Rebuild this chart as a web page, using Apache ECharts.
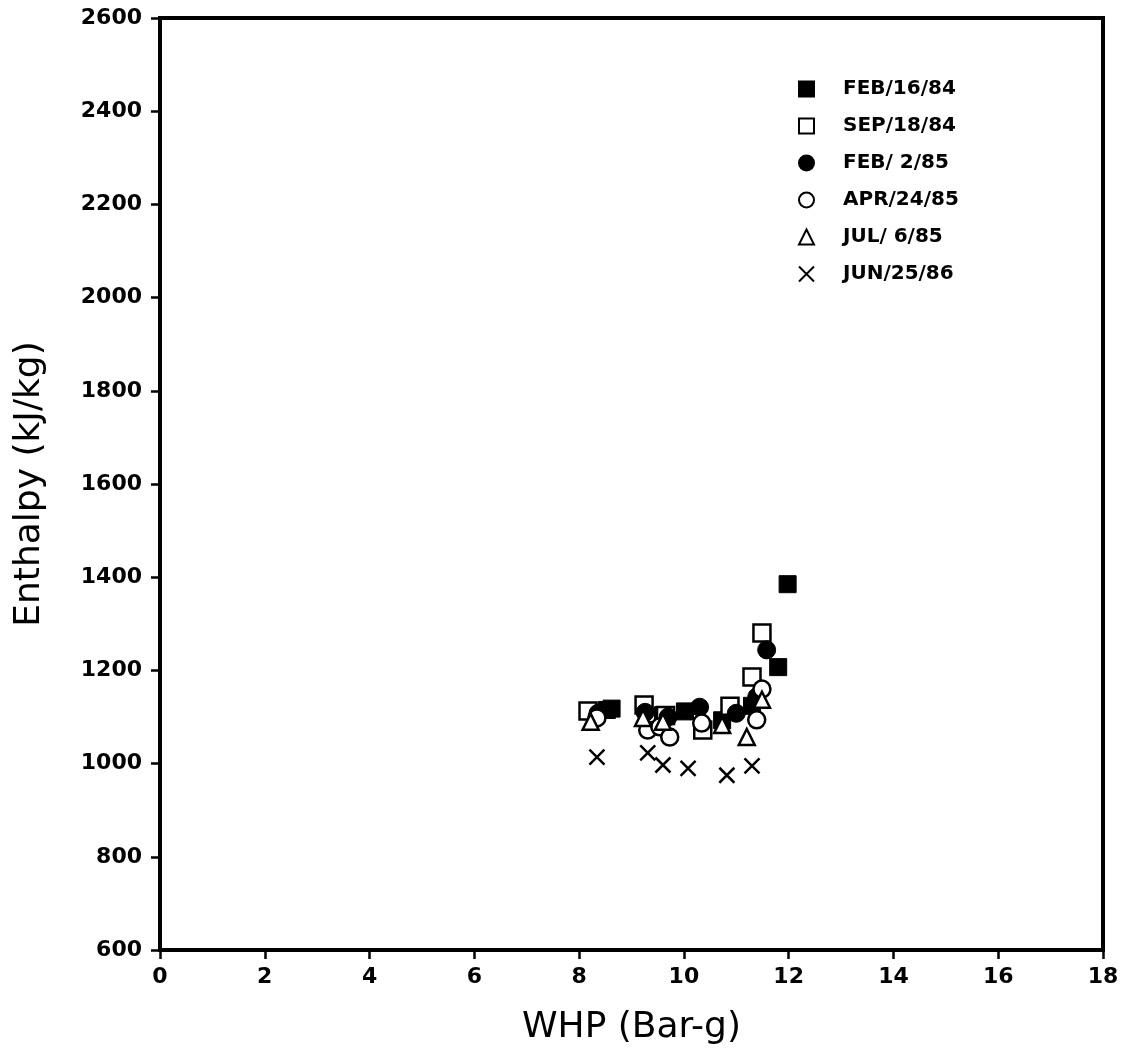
<!DOCTYPE html>
<html>
<head>
<meta charset="utf-8">
<script src="https://cdn.jsdelivr.net/npm/echarts@6/dist/echarts.min.js"></script>
<style>
html, body { margin: 0; padding: 0; background: #fff; }
#chart { width: 1125px; height: 1054px; }
</style>
</head>
<body>
<div id="chart"></div>
<script>
// WHP (bar-g) vs enthalpy (kJ/kg)
var seriesNames = ['FEB/16/84', 'SEP/18/84', 'FEB/ 2/85', 'APR/24/85', 'JUL/ 6/85', 'JUN/25/86'];

var feb84 = [[8.53, 1115], [8.62, 1118], [9.6, 1104], [10.02, 1112], [10.73, 1093], [11.3, 1124], [11.8, 1207], [11.98, 1385]];
var sep84 = [[8.17, 1113], [9.24, 1126], [9.65, 1103], [10.36, 1072], [10.88, 1123], [11.3, 1186], [11.49, 1280]];
var feb85 = [[8.36, 1108], [9.26, 1110], [9.7, 1100], [10.3, 1121], [11.0, 1108], [11.39, 1143], [11.58, 1244]];
var apr85 = [[8.34, 1098], [9.31, 1072], [9.54, 1079], [9.73, 1057], [10.34, 1087], [11.39, 1094], [11.49, 1160]];
var jul85 = [[8.22, 1090], [9.22, 1098], [9.6, 1090], [10.73, 1083], [11.2, 1057], [11.49, 1137]];
var jun86 = [[8.34, 1014], [9.31, 1023], [9.6, 997], [10.08, 990], [10.82, 975], [11.3, 995]];

var xTicks = [0, 2, 4, 6, 8, 10, 12, 14, 16, 18];
var yTicks = [600, 800, 1000, 1200, 1400, 1600, 1800, 2000, 2200, 2400, 2600];

var FONT = 'DejaVu Sans';
var crossPath = 'path://M0,0L10,10M10,0L0,10';

var filled = { color: '#000', borderColor: '#000', borderWidth: 1, opacity: 1 };
var hollow = { color: '#fff', borderColor: '#000', borderWidth: 2.5, opacity: 1 };

function makeSeries(name, data, symbol, size, style) {
	return {
		name: name,
		type: 'scatter',
		data: data,
		symbol: symbol,
		symbolSize: size,
		itemStyle: style,
		emphasis: { disabled: true }
	};
}

var option = {
	animation: false,
	backgroundColor: '#fff',
	grid: {
		left: 160, right: 22, top: 18, bottom: 104,
		show: true, borderColor: '#000', borderWidth: 4
	},
	legend: {
		orient: 'vertical',
		left: 793, top: 74,
		itemWidth: 15, itemHeight: 15,
		itemGap: 17,
		textStyle: { fontFamily: FONT, fontSize: 20, fontWeight: 'bold', color: '#000', padding: [0, 0, 0, 24] },
		data: seriesNames
	},
	xAxis: {
		type: 'value',
		min: xTicks[0], max: xTicks[xTicks.length - 1], interval: 2,
		name: 'WHP (Bar-g)', nameLocation: 'middle', nameGap: 60,
		nameTextStyle: { fontFamily: FONT, fontSize: 36, color: '#000' },
		axisLine: { show: true, lineStyle: { color: '#000', width: 4 } },
		axisTick: { show: true, inside: false, length: 9, lineStyle: { color: '#000', width: 2.5 } },
		axisLabel: { fontFamily: FONT, fontSize: 22, fontWeight: 'bold', color: '#000', margin: 16,
			formatter: function (v) { return String(v); } },
		splitLine: { show: false }
	},
	yAxis: {
		type: 'value',
		min: yTicks[0], max: yTicks[yTicks.length - 1], interval: 200,
		name: 'Enthalpy (kJ/kg)', nameLocation: 'middle', nameGap: 112,
		nameTextStyle: { fontFamily: FONT, fontSize: 36, color: '#000' },
		axisLine: { show: true, lineStyle: { color: '#000', width: 4 } },
		axisTick: { show: true, inside: false, length: 9, lineStyle: { color: '#000', width: 2.5 } },
		axisLabel: { fontFamily: FONT, fontSize: 22, fontWeight: 'bold', color: '#000', margin: 18,
			formatter: function (v) { return String(v); } },
		splitLine: { show: false }
	},
	series: [
		makeSeries(seriesNames[0], feb84, 'rect', 17, filled),
		makeSeries(seriesNames[1], sep84, 'rect', 17, hollow),
		makeSeries(seriesNames[2], feb85, 'circle', 18, filled),
		makeSeries(seriesNames[3], apr85, 'circle', 17, hollow),
		makeSeries(seriesNames[4], jul85, 'triangle', 16, hollow),
		makeSeries(seriesNames[5], jun86, crossPath, 15, { color: 'transparent', borderColor: '#000', borderWidth: 2.5, opacity: 1 })
	]
};

var myChart = echarts.init(document.getElementById('chart'));
myChart.setOption(option);
</script>
</body>
</html>
